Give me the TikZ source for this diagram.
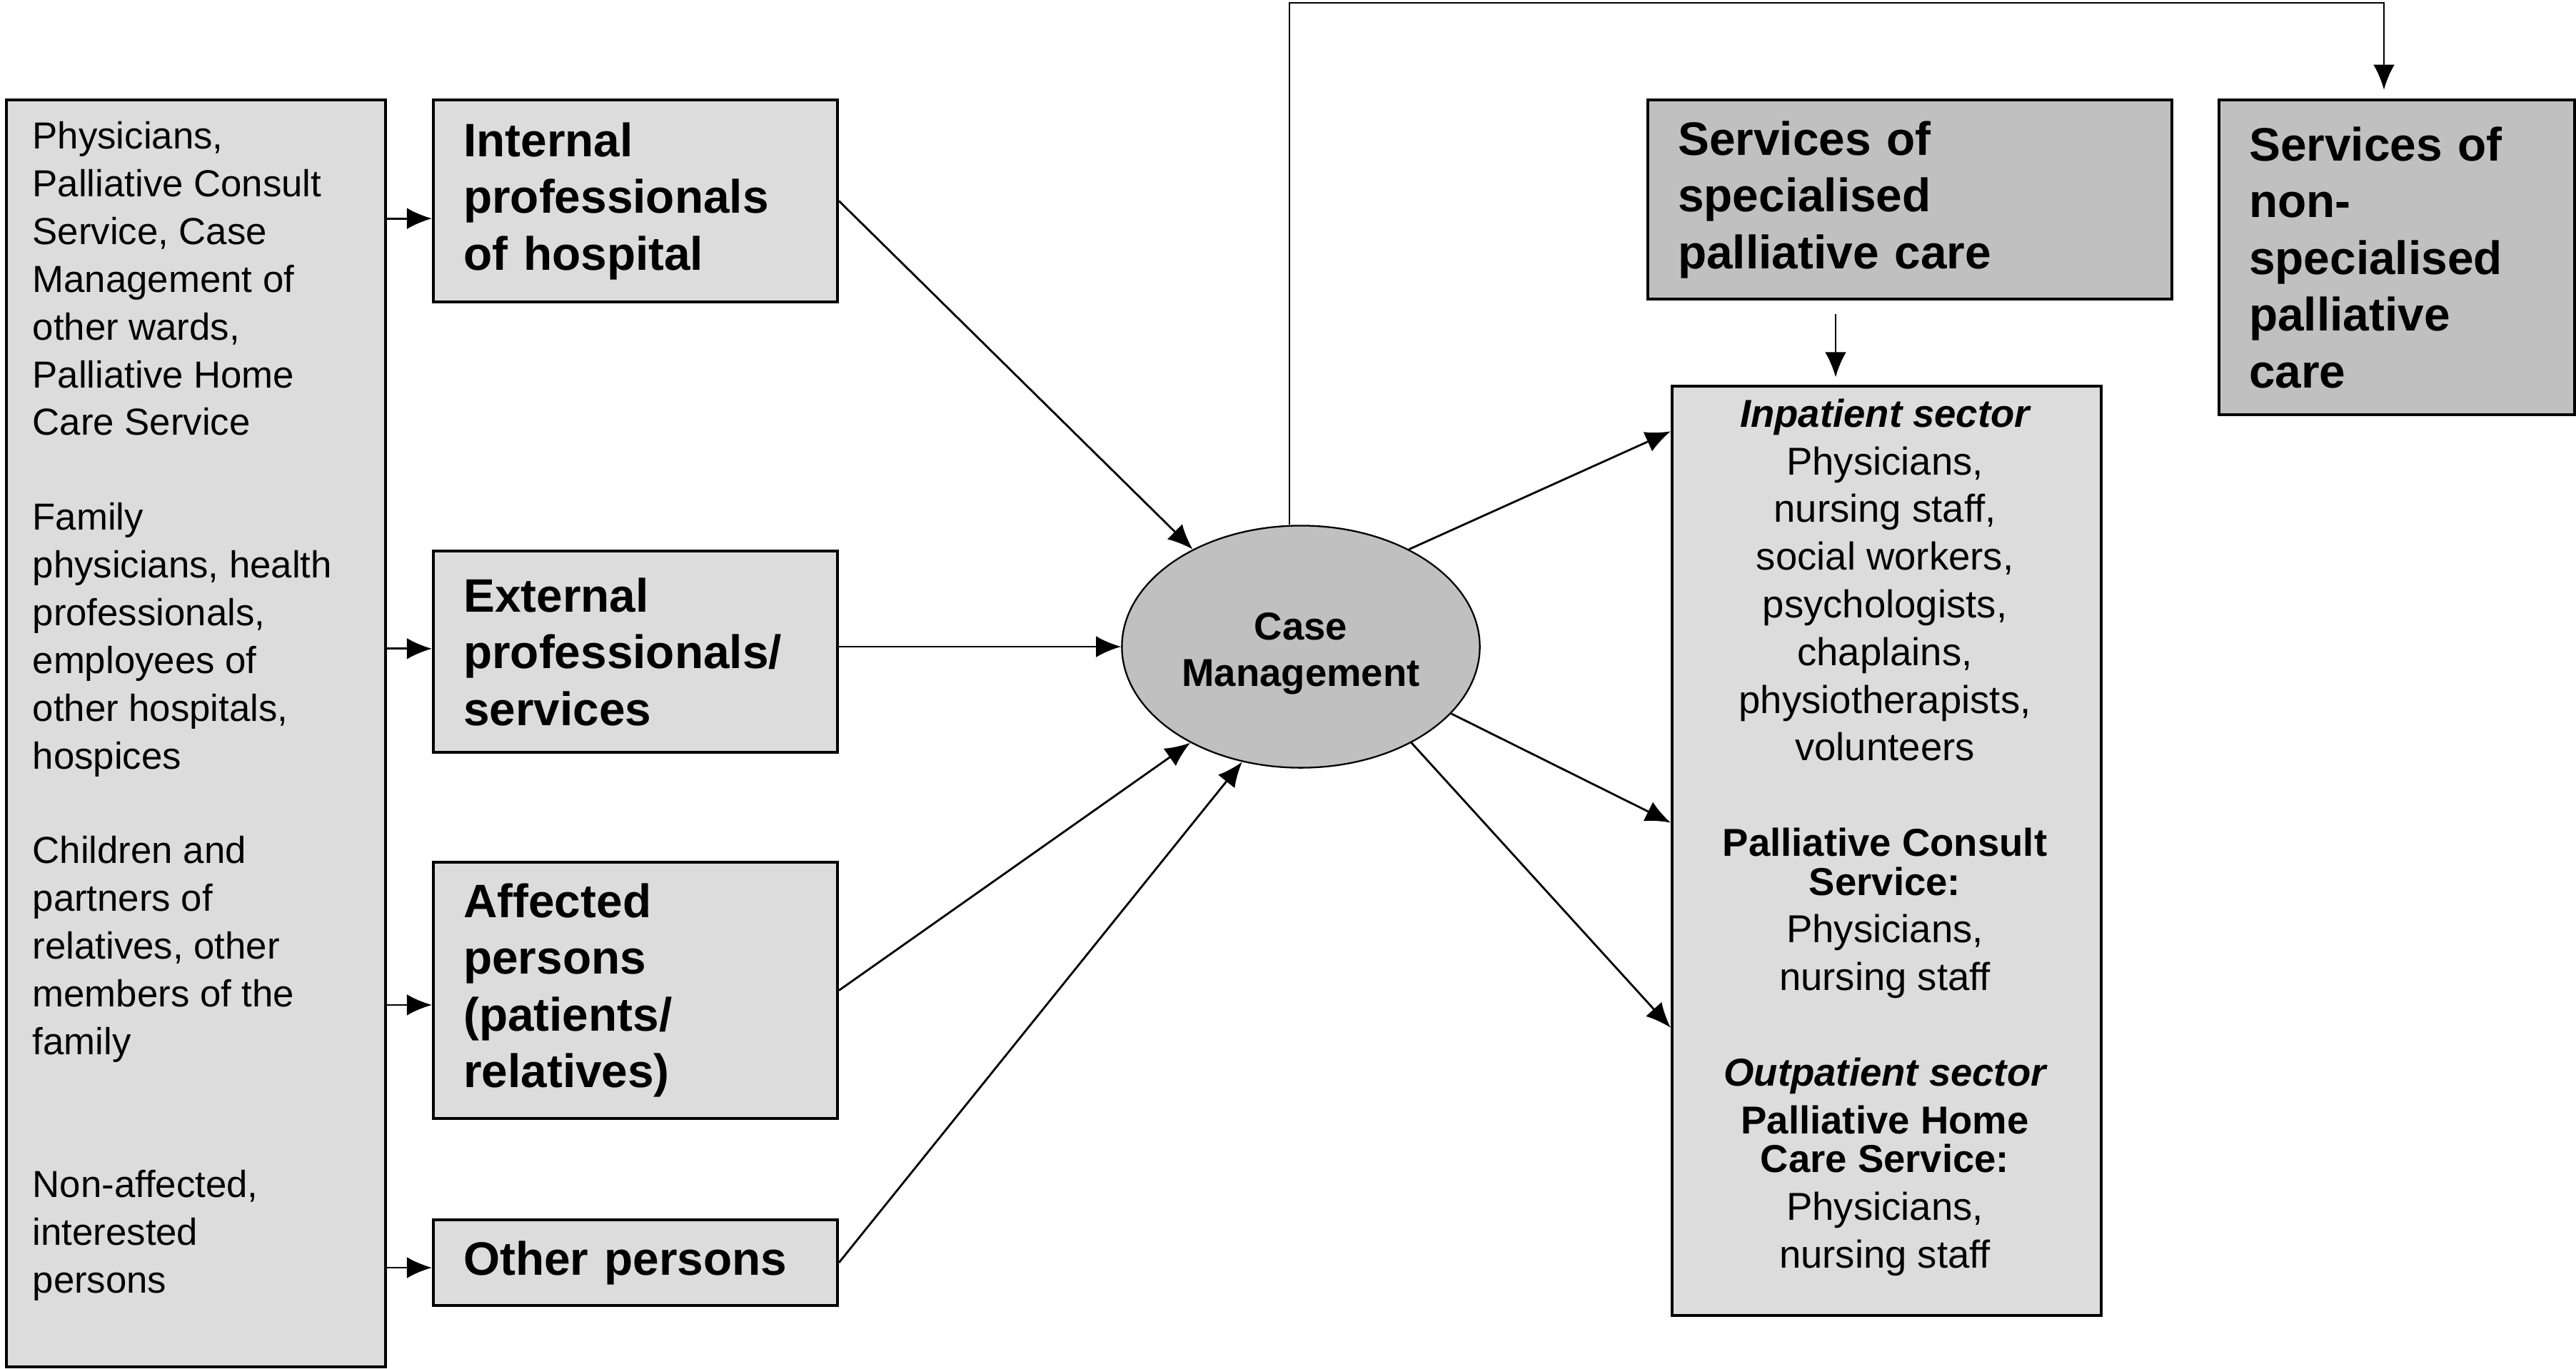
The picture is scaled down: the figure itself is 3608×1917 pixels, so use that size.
\documentclass[tikz,border=0pt]{standalone}
\usepackage{fontspec}
\setmainfont{Liberation Sans}
\usetikzlibrary{arrows.meta,shapes.geometric,calc}
\definecolor{lightbox}{RGB}{220,220,220}
\definecolor{darkbox}{RGB}{192,192,192}
\newcommand{\srcfont}{\bfseries\fontsize{18.7}{22.6}\selectfont}
\newcommand{\listfont}{\fontsize{15}{19}\selectfont}
\newcommand{\stafffont}{\fontsize{15.5}{19}\selectfont}
\begin{document}
\begin{tikzpicture}[x=0.01cm,y=-0.01cm,>={Latex[length=10pt,width=8.5pt]},
		every node/.style={inner sep=0pt},
		srcbox/.style={draw,line width=1.1pt,fill=lightbox,anchor=north west,align=left,
			inner xsep=12pt,text width=137pt,font=\srcfont},
		carebox/.style={srcbox,fill=darkbox},
		plainbox/.style={draw,line width=1.1pt,fill=lightbox,anchor=north west},
		listtext/.style={anchor=north west,align=left,font=\listfont},
		link/.style={->,line width=0.8pt}]
		
		\useasboundingbox (0,0) rectangle (3608,1917);
		
		\node[plainbox,minimum width=5.31cm,minimum height=17.74cm] (who) at (7,138) {};
		\node[listtext] (phys) at (45,170) {Physicians,\\Palliative Consult\\Service, Case\\Management of\\other wards,\\Palliative Home\\Care Service};
		\node[listtext] (family) at (45,704) {Family\\physicians, health\\professionals,\\employees of\\other hospitals,\\hospices};
		\node[listtext] (children) at (45,1171) {Children and\\partners of\\relatives, other\\members of the\\family};
		\node[listtext] (nonaff) at (45,1639) {Non-affected,\\interested\\persons};
		
		\node[srcbox,minimum height=2.83cm] (internal) at (605,138) {Internal\\professionals\\of hospital};
		\node[srcbox,minimum height=2.82cm] (external) at (605,770) {External\\professionals/\\services};
		\node[srcbox,minimum height=3.59cm] (affected) at (605,1206) {Affected\\persons\\(patients/\\relatives)};
		\node[srcbox,minimum height=1.20cm] (other) at (605,1707) {Other persons};
		
		\node[ellipse,draw,line width=0.65pt,fill=darkbox,minimum width=5.01cm,minimum height=3.39cm] (cm) at (1822,906) {};
		\node[align=center,font=\bfseries\fontsize{15.5}{18.5}\selectfont] (cmtext) at (1822,916) {Case\\Management};
		
		\node[carebox,text width=184.8pt,minimum height=2.79cm] (spec) at (2306,138) {Services of\\specialised\\palliative care};
		\node[carebox,text width=117.7pt,minimum height=4.41cm] (nonspec) at (3106,138) {Services of\\non-\\specialised\\palliative\\care};
		
		\node[plainbox,minimum width=6.01cm,minimum height=13.01cm] (inpat) at (2340,539) {};
		\node[anchor=north,align=center,font=\stafffont] (staff) at (2640,558) {{\bfseries\itshape Inpatient sector}\\
			Physicians,\\nursing staff,\\social workers,\\psychologists,\\chaplains,\\physiotherapists,\\volunteers\\[19pt]
			{\bfseries Palliative Consult}\\[-3.5pt]{\bfseries Service:}\\Physicians,\\nursing staff\\[19pt]
			{\bfseries\itshape Outpatient sector}\\{\bfseries Palliative Home}\\[-3.5pt]{\bfseries Care Service:}\\
			Physicians,\\nursing staff};
		
		\coordinate (inA) at ([yshift=-7pt]internal.west);
		\coordinate (inB) at ([yshift=1.2pt]external.west);
		\coordinate (inC) at ([yshift=-5.8pt]affected.west);
		\coordinate (inD) at ([yshift=-2pt]other.west);
		\draw[link] (who.east |- inA) -- (inA);
		\draw[link] (who.east |- inB) -- (inB);
		\draw[link] (who.east |- inC) -- (inC);
		\draw[link] (who.east |- inD) -- (inD);
		
		\draw[link] (internal.east) -- (cm.138);
		\draw[link] (external.east |- cm.west) -- (cm.west);
		\draw[link] (affected.east) -- (cm.221);
		\draw[link] (other.east) -- (cm.243);
		
		\draw[link] (cm.42) -- ($(inpat.north west)!0.05!(inpat.south west)$);
		\draw[link] (cm.-24) -- ($(inpat.north west)!0.47!(inpat.south west)$);
		\draw[link] (cm.-41) -- ($(inpat.north west)!0.69!(inpat.south west)$);
		
		\coordinate (turnL) at (1806,4);
		\coordinate (turnR) at (3339,4);
		\draw[link,shorten >=3.5pt] (turnL |- cm.north) -- (turnL) -- (turnR) -- (turnR |- nonspec.north);
		
		\coordinate (drop) at (2571,0);
		\draw[link,shorten <=5.5pt,shorten >=3pt] (drop |- spec.south) -- (drop |- inpat.north);
\end{tikzpicture}
\end{document}
